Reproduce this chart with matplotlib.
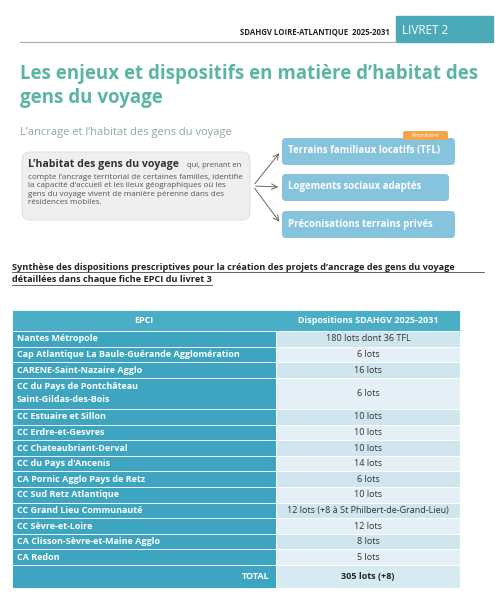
import matplotlib
matplotlib.use("Agg")
import matplotlib.pyplot as plt
from matplotlib.patches import Rectangle, FancyBboxPatch

epci = ["Nantes Métropole", "Cap Atlantique La Baule-Guérande Agglomération",
        "CARENE-Saint-Nazaire Agglo", "CC du Pays de Pontchâteau\nSaint-Gildas-des-Bois",
        "CC Estuaire et Sillon", "CC Erdre-et-Gesvres", "CC Chateaubriant-Derval",
        "CC du Pays d'Ancenis", "CA Pornic Agglo Pays de Retz", "CC Sud Retz Atlantique",
        "CC Grand Lieu Communauté", "CC Sèvre-et-Loire", "CA Clisson-Sèvre-et-Maine Agglo",
        "CA Redon"]
dispositions = ["180 lots dont 36 TFL", "6 lots", "16 lots", "6 lots", "10 lots", "10 lots",
                "10 lots", "14 lots", "6 lots", "10 lots",
                "12 lots (+8 à St Philbert-de-Grand-Lieu)", "12 lots", "8 lots", "5 lots"]
total_label = "TOTAL"
total_value = "305 lots (+8)"
boxes = ["Terrains familiaux locatifs (TFL)", "Logements sociaux adaptés",
         "Préconisations terrains privés"]

plt.rcParams['font.family'] = ['Open Sans', 'DejaVu Sans']
fig = plt.figure(figsize=(4.95, 6.0), dpi=100)
ax = fig.add_axes([0, 0, 1, 1])
ax.set_xlim(0, 495); ax.set_ylim(600, 0); ax.axis('off')

TEAL = "#3ea5c0"
ax.add_patch(Rectangle((396, 16), 97, 26, color="#4aaab8"))
ax.text(402, 30, "LIVRET 2", color="white", fontsize=8.5, va="center")
ax.text(390, 32, "SDAHGV LOIRE-ATLANTIQUE  2025-2031", fontsize=5.6, fontweight="bold",
        ha="right", va="center", color="#222")
ax.plot([20, 396], [42, 42], color="#aaa", lw=0.8)
ax.text(20, 86, "Les enjeux et dispositifs en matière d’habitat des\ngens du voyage",
        fontsize=13.5, fontweight="bold", color="#5cb5a4", va="center", linespacing=1.3)
ax.text(20, 132, "L’ancrage et l’habitat des gens du voyage", fontsize=8, color="#8fa8a4",
        va="center")
ax.add_patch(FancyBboxPatch((22, 152), 228, 68, boxstyle="round,pad=0,rounding_size=8",
                            fc="#efefef", ec="#ddd", lw=0.6))
ax.text(28, 165, "L’habitat des gens du voyage", fontsize=7.6, fontweight="bold",
        color="#333", va="center")
ax.text(187, 165.5, "qui, prenant en", fontsize=5.5, color="#555", va="center")
ax.text(28, 190, "compte l’ancrage territorial de certaines familles, identifie\n"
        "la capacité d’accueil et les lieux géographiques où les\n"
        "gens du voyage vivent de manière pérenne dans des\nrésidences mobiles.",
        fontsize=5.8, color="#555", va="center", linespacing=1.25)
bys = [151, 187, 224]
bws = [173, 167, 173]
for b, y, w in zip(boxes, bys, bws):
    ax.add_patch(FancyBboxPatch((282, y - 13), w, 27, boxstyle="round,pad=0,rounding_size=4",
                                fc="#86c3dc", ec="none"))
    ax.text(288, y, b, fontsize=7, fontweight="bold", color="white", va="center")
    ax.annotate("", xy=(281, y), xytext=(253, 186),
                arrowprops=dict(arrowstyle="->", color="#666", lw=0.7))
ax.add_patch(FancyBboxPatch((403, 131), 45, 9, boxstyle="round,pad=0,rounding_size=2",
                            fc="#f4a54a", ec="none"))
ax.text(425, 135.5, "Prioritaire", fontsize=4.2, color="white", ha="center", va="center")
ax.text(12, 267, "Synthèse des dispositions prescriptives pour la création des projets d’ancrage des gens du voyage",
        fontsize=6.6, fontweight="bold", color="#222", va="center")
ax.text(12, 280, "détaillées dans chaque fiche EPCI du livret 3",
        fontsize=6.6, fontweight="bold", color="#222", va="center")
ax.plot([12, 484], [272, 272], color="#222", lw=0.5)
ax.plot([12, 212], [285, 285], color="#222", lw=0.5)

x0, xm, x1 = 12, 276, 460
y = 310
ax.add_patch(Rectangle((x0, y), x1 - x0, 21, fc="#4aaec6", ec="white", lw=0.6))
ax.text((x0 + xm) / 2, y + 10.5, "EPCI", color="white", fontsize=6.5, fontweight="bold",
        ha="center", va="center")
ax.text((xm + x1) / 2, y + 10.5, "Dispositions SDAHGV 2025-2031", color="white",
        fontsize=6.5, fontweight="bold", ha="center", va="center")
y += 21
for i, (e, d) in enumerate(zip(epci, dispositions)):
    h = 15.6 * (2 if "\n" in e else 1)
    ax.add_patch(Rectangle((x0, y), xm - x0, h, fc=TEAL, ec="white", lw=0.6))
    ax.add_patch(Rectangle((xm, y), x1 - xm, h, fc="#cfe6ef" if i % 2 == 0 else "#e4f0f5",
                           ec="white", lw=0.6))
    ax.text(x0 + 5, y + h / 2, e, color="white", fontsize=6.5, fontweight="bold",
            va="center", linespacing=1.55)
    ax.text((xm + x1) / 2, y + h / 2, d, color="#333", fontsize=6.5, ha="center", va="center")
    y += h
ax.add_patch(Rectangle((x0, y), xm - x0, 23, fc=TEAL, ec="white", lw=0.6))
ax.add_patch(Rectangle((xm, y), x1 - xm, 23, fc="#d6eaf1", ec="white", lw=0.6))
ax.text(xm - 6, y + 11.5, total_label, color="white", fontsize=6.5, fontweight="bold",
        ha="right", va="center")
ax.text((xm + x1) / 2, y + 11.5, total_value, color="#222", fontsize=6.5, fontweight="bold",
        ha="center", va="center")
fig.savefig("out.png", dpi=100)
